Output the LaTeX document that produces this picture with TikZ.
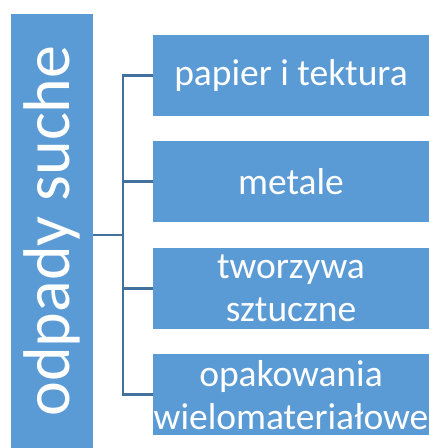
\documentclass[tikz,border=0pt]{standalone}
\usepackage{fontspec}
\setmainfont{Carlito}
\usetikzlibrary{positioning,calc}
\definecolor{boxblue}{HTML}{5B9BD5}
\definecolor{linkblue}{HTML}{41719C}

\begin{document}
\begin{tikzpicture}[x=1pt,y=1pt,
	between/.style args={#1 and #2}{
		at = ($(#1)!0.5!(#2)$)
	},
	root/.style={
		fill = boxblue,
		text = white,
		rotate = 90,
		minimum width = 434pt,
		minimum height = 82pt,
		inner sep = 0pt,
		font = \fontsize{66}{70}\selectfont
	},
	category/.style={
		fill = boxblue,
		text = white,
		minimum width = 276pt,
		minimum height = 81pt,
		inner sep = 0pt,
		align = center,
		font = \fontsize{37.5}{43}\selectfont
	},
	link/.style={
		draw = linkblue,
		line width = 2.8pt
	},
	]

	\useasboundingbox (0,0) rectangle (429,448);

	\node[root] (dry) at (52,217) {odpady suche};

	\node[category] (paper) at (291,372.5) {papier i tektura};
	\node[category, below = 25pt of paper] (metal) {metale};
	\node[category, below = 25pt of metal] (plastic) {tworzywa\\sztuczne};
	\node[category, below = 25pt of plastic] (mixed) {opakowania\\wielomateriałowe};

	\coordinate[between = paper.west and mixed.west] (hub);
	\coordinate (bus) at (123,0);

	\draw[link] (paper.west) -- (bus |- paper.west) -- (bus |- mixed.west) -- (mixed.west);
	\draw[link] (bus |- metal.west) -- (metal.west);
	\draw[link] (bus |- plastic.west) -- (plastic.west);
	\draw[link] (dry.south |- hub) -- (bus |- hub);

\end{tikzpicture}
\end{document}
